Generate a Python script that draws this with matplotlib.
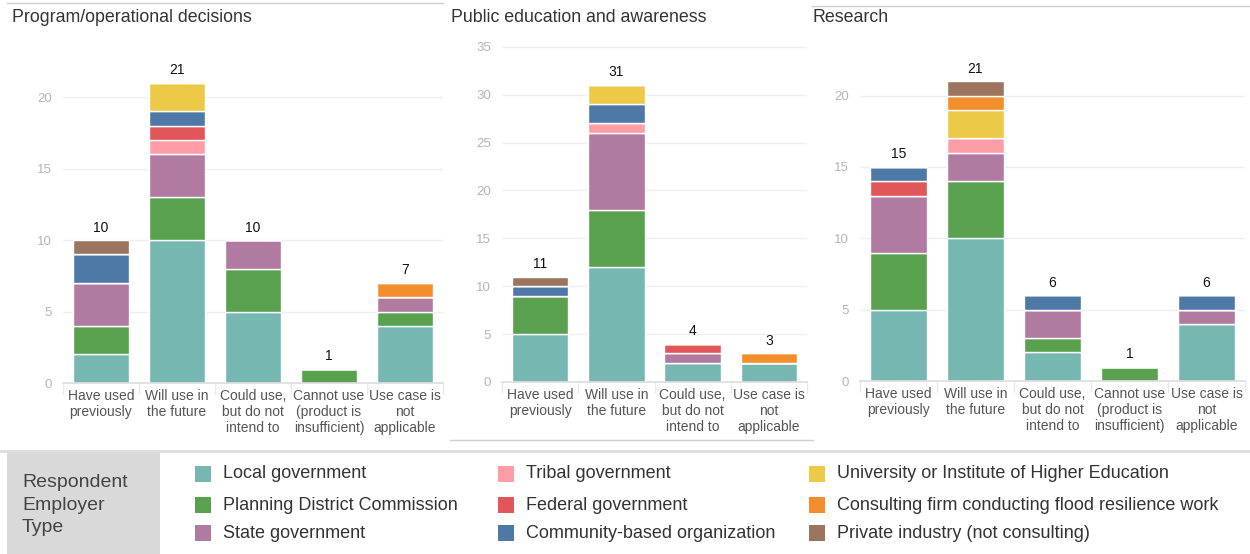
import numpy as np
import matplotlib
matplotlib.use("Agg")
import matplotlib.pyplot as plt
from matplotlib.patches import Rectangle
from matplotlib.lines import Line2D

plt.rcParams['font.family'] = ['Liberation Sans', 'DejaVu Sans']

# employer types, bottom to top of each stack
employer_types = ["Local government", "Planning District Commission", "State government",
                  "Tribal government", "Federal government", "Community-based organization",
                  "University or Institute of Higher Education",
                  "Consulting firm conducting flood resilience work",
                  "Private industry (not consulting)"]
colors = ["#76B7B2", "#59A14F", "#B07AA1", "#FF9DA7", "#E15759", "#4E79A7",
          "#EDC948", "#F28E2B", "#9C755F"]

cats5 = ["Have used\npreviously", "Will use in\nthe future", "Could use,\nbut do not\nintend to",
         "Cannot use\n(product is\ninsufficient)", "Use case is\nnot\napplicable"]
cats4 = ["Have used\npreviously", "Will use in\nthe future", "Could use,\nbut do not\nintend to",
         "Use case is\nnot\napplicable"]

# rows follow employer_types, columns follow categories
program_counts = [[2, 10, 5, 0, 4],
                  [2, 3, 3, 1, 1],
                  [3, 3, 2, 0, 1],
                  [0, 1, 0, 0, 0],
                  [0, 1, 0, 0, 0],
                  [2, 1, 0, 0, 0],
                  [0, 2, 0, 0, 0],
                  [0, 0, 0, 0, 1],
                  [1, 0, 0, 0, 0]]
public_counts = [[5, 12, 2, 2],
                 [4, 6, 0, 0],
                 [0, 8, 1, 0],
                 [0, 1, 0, 0],
                 [0, 0, 1, 0],
                 [1, 2, 0, 0],
                 [0, 2, 0, 0],
                 [0, 0, 0, 1],
                 [1, 0, 0, 0]]
research_counts = [[5, 10, 2, 0, 4],
                   [4, 4, 1, 1, 0],
                   [4, 2, 2, 0, 1],
                   [0, 1, 0, 0, 0],
                   [1, 0, 0, 0, 0],
                   [1, 0, 1, 0, 1],
                   [0, 2, 0, 0, 0],
                   [0, 1, 0, 0, 0],
                   [0, 1, 0, 0, 0]]

W, H = 1250, 554
fig = plt.figure(figsize=(12.5, 5.54), dpi=100)


def px_axes(x0, x1, ytop, ybot):
    return fig.add_axes([x0 / W, 1 - ybot / H, (x1 - x0) / W, (ybot - ytop) / H])


def draw_panel(ax, cats, counts, ymax, yticks):
    counts = np.array(counts)
    x = np.arange(len(cats))
    bottom = np.zeros(len(cats))
    for i, row in enumerate(counts):
        ax.bar(x, row, 0.74, bottom=bottom, color=colors[i], edgecolor="white", linewidth=1)
        bottom += row
    for xi, t in zip(x, bottom):
        ax.annotate(str(int(t)), (xi, t), xytext=(0, 4), textcoords="offset points",
                    ha="center", va="bottom", fontsize=10, color="#111111")
    ax.set_xlim(-0.5, len(cats) - 0.5)
    ax.set_ylim(0, ymax)
    ax.set_yticks(yticks)
    ax.set_xticks(x)
    ax.set_xticklabels(cats, fontsize=10, color="#555555", linespacing=1.2)
    ax.set_xticks(np.arange(len(cats) + 1) - 0.5, minor=True)
    ax.tick_params(axis="x", which="major", length=0, pad=4)
    ax.tick_params(axis="x", which="minor", length=8, color="#e8e8e8", width=1)
    ax.tick_params(axis="y", length=0, pad=8, labelsize=9.5, labelcolor="#b5b5b5")
    ax.grid(axis="y", color="#efefef", linewidth=1)
    ax.set_axisbelow(True)
    for s in ["top", "right", "left"]:
        ax.spines[s].set_visible(False)
    ax.spines["bottom"].set_color("#dddddd")
    ax.spines["bottom"].set_linewidth(1.2)


ax1 = px_axes(63, 443, 40, 383)
draw_panel(ax1, cats5, program_counts, 24, [0, 5, 10, 15, 20])
ax2 = px_axes(502, 807, 40, 382)
draw_panel(ax2, cats4, public_counts, 35.7, [0, 5, 10, 15, 20, 25, 30, 35])
ax3 = px_axes(860, 1245, 40, 381)
draw_panel(ax3, cats5, research_counts, 23.9, [0, 5, 10, 15, 20])

fig.text(12 / W, 1 - 18 / H, "Program/operational decisions", fontsize=12.8, color="#333333", va="center")
fig.text(451 / W, 1 - 18 / H, "Public education and awareness", fontsize=12.8, color="#333333", va="center")
fig.text(812 / W, 1 - 17 / H, "Research", fontsize=12.8, color="#333333", va="center")

# dashboard borders
border = "#cfcfcf"
fig.add_artist(Line2D([7 / W, 443 / W], [1 - 3 / H, 1 - 3 / H], color=border, lw=1))
fig.add_artist(Line2D([812 / W, 1], [1 - 6 / H, 1 - 6 / H], color=border, lw=1))
fig.add_artist(Line2D([450 / W, 813 / W], [1 - 440 / H, 1 - 440 / H], color=border, lw=1))
fig.add_artist(Line2D([0, 1], [1 - 451 / H, 1 - 451 / H], color="#dddddd", lw=2))

# legend
fig.add_artist(Rectangle((7 / W, 0), (160 - 7) / W, (554 - 452) / H, transform=fig.transFigure,
                         facecolor="#d9d9d9", edgecolor="none"))
fig.text(22 / W, 1 - 505 / H, "Respondent\nEmployer\nType", fontsize=14, color="#444444",
         va="center", ha="left", linespacing=1.45)
col_x = [195, 498, 809]
row_y = [474, 505, 533]
for i, name in enumerate(employer_types):
    cx = col_x[i // 3]
    cy = row_y[i % 3]
    fig.add_artist(Rectangle((cx / W, 1 - (cy + 8) / H), 16 / W, 16 / H, transform=fig.transFigure,
                             facecolor=colors[i], edgecolor="none"))
    fig.text((cx + 28) / W, 1 - cy / H, name, fontsize=13, color="#333333", va="center")

fig.savefig("out.png", dpi=100)
